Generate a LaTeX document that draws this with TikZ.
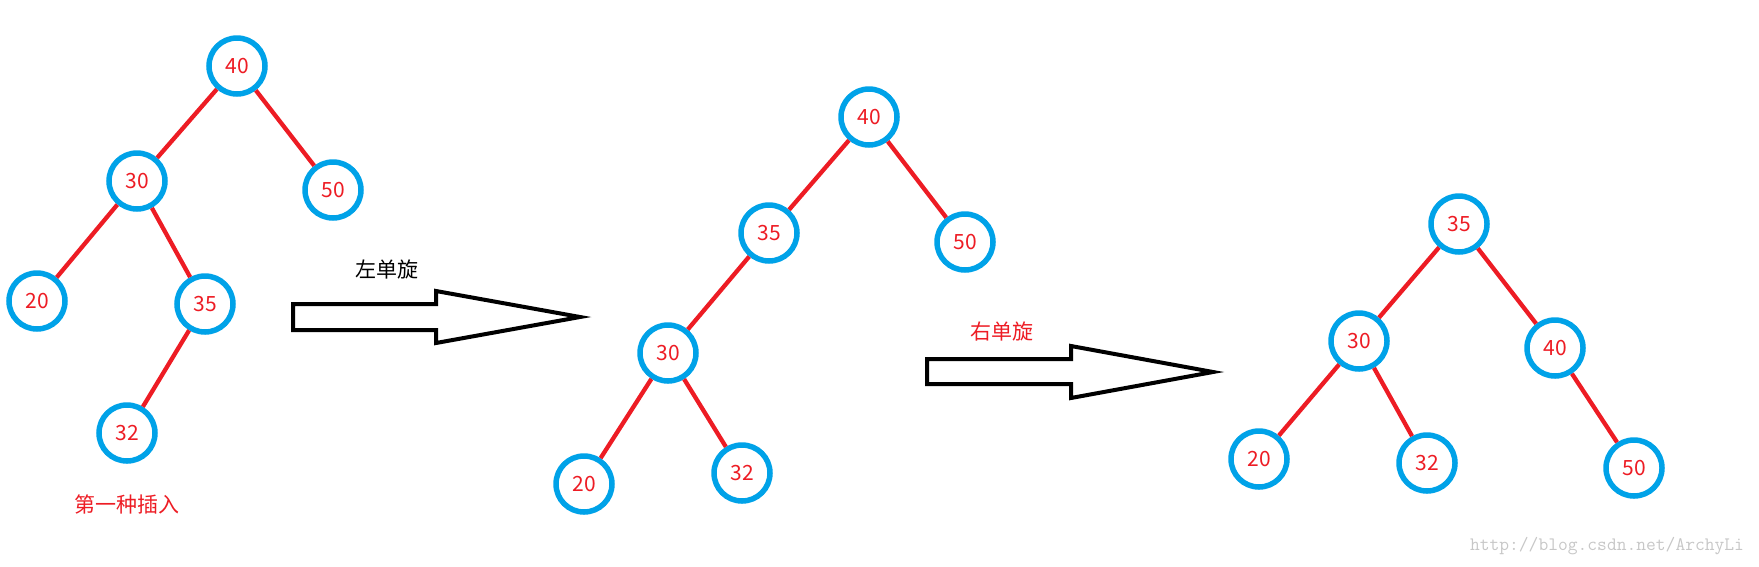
\documentclass[tikz,border=0pt]{standalone}
\usepackage{fontspec}
\setmainfont{Noto Sans CJK SC}
\usepackage{tikz}
\definecolor{pred}{RGB}{237,28,36}
\definecolor{pblue}{RGB}{0,162,232}
\tikzset{
  nd/.style={circle,draw=pblue,line width=5.5pt,minimum size=56pt,inner sep=0pt,
    text=pred,font=\fontsize{21}{21}\selectfont},
  ed/.style={draw=pred,line width=4.3pt},
  bigarrow/.style={draw=black,line width=4pt,line join=miter,fill=white},
  lbl/.style={font=\fontsize{21}{21}\selectfont,inner sep=0pt}
}
\begin{document}
\begin{tikzpicture}[x=1pt,y=-1pt]
  \useasboundingbox (0,0) rectangle (1759,566);

  \node [nd] (a40) at (237,66) {40};
  \node [nd] (a30) at (137,181) {30};
  \node [nd] (a50) at (333,190) {50};
  \node [nd] (a20) at (37,301) {20};
  \node [nd] (a35) at (205,304) {35};
  \node [nd] (a32) at (127,433) {32};
  \draw [ed] (a40) -- (a30);
  \draw [ed] (a40) -- (a50);
  \draw [ed] (a30) -- (a20);
  \draw [ed] (a30) -- (a35);
  \draw [ed] (a35) -- (a32);
  \node [lbl,text=pred] (ins) at (127,504) {第一种插入};

  \draw [bigarrow] (293,304) -- (436,304) -- (436,291) -- (580,317)
    -- (436,343) -- (436,330) -- (293,330) -- cycle;
  \node [lbl] (rotl) at (387,270) {左单旋};

  \node [nd] (b40) at (869,117) {40};
  \node [nd] (b35) at (769,233) {35};
  \node [nd] (b50) at (965,242) {50};
  \node [nd] (b30) at (668,353) {30};
  \node [nd] (b20) at (584,484) {20};
  \node [nd] (b32) at (742,473) {32};
  \draw [ed] (b40) -- (b35);
  \draw [ed] (b40) -- (b50);
  \draw [ed] (b35) -- (b30);
  \draw [ed] (b30) -- (b20);
  \draw [ed] (b30) -- (b32);

  \draw [bigarrow] (927,359) -- (1071,359) -- (1071,346) -- (1213,372)
    -- (1071,398) -- (1071,384) -- (927,384) -- cycle;
  \node [lbl,text=pred] (rotr) at (1002,332) {右单旋};

  \node [nd] (c35) at (1459,224) {35};
  \node [nd] (c30) at (1359,341) {30};
  \node [nd] (c40) at (1555,348) {40};
  \node [nd] (c20) at (1259,459) {20};
  \node [nd] (c32) at (1427,463) {32};
  \node [nd] (c50) at (1634,468) {50};
  \draw [ed] (c35) -- (c30);
  \draw [ed] (c35) -- (c40);
  \draw [ed] (c30) -- (c20);
  \draw [ed] (c30) -- (c32);
  \draw [ed] (c40) -- (c50);

  \node [text=black!22,font=\ttfamily\fontsize{19}{19}\selectfont,inner sep=0pt]
    (mark) at (1607,546) {http://blog.csdn.net/ArchyLi};
\end{tikzpicture}
\end{document}
